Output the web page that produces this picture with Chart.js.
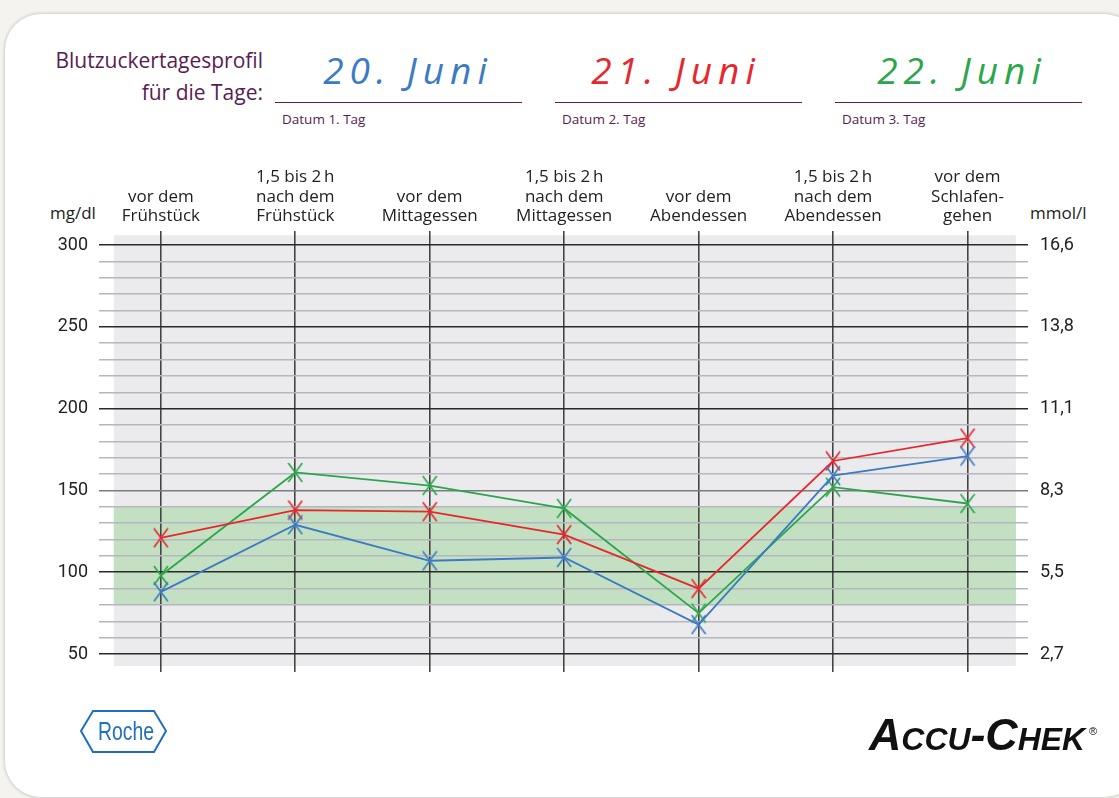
<!DOCTYPE html>
<html lang="de">
<head>
<meta charset="utf-8">
<title>Blutzuckertagesprofil</title>
<script src="https://cdn.jsdelivr.net/npm/chart.js@4.4.1/dist/chart.umd.min.js"></script>
<style>
  html, body { margin: 0; padding: 0; }
  body {
    width: 1119px; height: 798px; overflow: hidden; position: relative;
    background: #f4f3ef; font-family: "Open Sans", sans-serif;
  }
  .card {
    position: absolute; left: 5px; top: 14px; width: 1135px; height: 783px;
    background: #fff; border-radius: 36px;
    box-shadow: 0 0 3px 1px rgba(0, 0, 0, 0.16);
  }
  .purple { color: #5a1c52; }
  .head { position: absolute; right: 856px; font-size: 21px; line-height: 24px; text-align: right; white-space: nowrap; }
  .date {
    position: absolute; width: 248px; text-align: center; top: 50px;
    font-size: 37px; line-height: 40px; font-style: italic; font-weight: 400;
    letter-spacing: 6px; white-space: nowrap;
  }
  .rule { position: absolute; top: 102px; width: 247px; height: 0; border-top: 1.5px solid #5a1c52; }
  .small { position: absolute; top: 111px; font-size: 13.5px; line-height: 16px; white-space: nowrap; }
  .unit { position: absolute; top: 203px; font-size: 17px; line-height: 20px; color: #222; }
  #wrap { position: absolute; left: 0; top: 0; width: 1119px; height: 798px; }
</style>
</head>
<body>
<div class="card"></div>

<div class="head purple" style="top:48px">Blutzuckertagesprofil</div>
<div class="head purple" style="top:80px">für die Tage:</div>

<div class="date" style="left:284px;color:#3b7bc3">20. Juni</div>
<div class="date" style="left:552px;color:#e8262d">21. Juni</div>
<div class="date" style="left:838px;color:#2ca64b">22. Juni</div>

<div class="rule" style="left:275px"></div>
<div class="rule" style="left:555px"></div>
<div class="rule" style="left:835px"></div>

<div class="small purple" style="left:282px">Datum 1. Tag</div>
<div class="small purple" style="left:562px">Datum 2. Tag</div>
<div class="small purple" style="left:842px">Datum 3. Tag</div>

<div class="unit" style="left:50px">mg/dl</div>
<div class="unit" style="left:1030px">mmol/l</div>

<div id="wrap"><canvas id="profil"></canvas></div>

<svg style="position:absolute;left:0;top:0" width="1119" height="798">
  <polygon points="81,731 93,711 154,711 166,731 154,752 93,752" fill="none" stroke="#1f6fc1" stroke-width="2"/>
  <text x="98" y="740" textLength="56" lengthAdjust="spacingAndGlyphs" fill="#1f6fc1" font-size="25"
        font-family="Liberation Sans, sans-serif">Roche</text>
  <text x="869" y="750" textLength="216" lengthAdjust="spacingAndGlyphs" fill="#111" font-size="45"
        font-weight="700" font-style="italic" style="font-variant: small-caps"
        font-family="Liberation Sans, sans-serif">Accu-Chek</text>
  <text x="1089" y="735" fill="#111" font-size="11" font-family="Liberation Sans, sans-serif">®</text>
</svg>

<script>
// ===================== Messzeitpunkte =====================
var zeitpunkte = [
  ["vor dem", "Frühstück"],
  ["1,5 bis 2\u2009h", "nach dem", "Frühstück"],
  ["vor dem", "Mittagessen"],
  ["1,5 bis 2\u2009h", "nach dem", "Mittagessen"],
  ["vor dem", "Abendessen"],
  ["1,5 bis 2\u2009h", "nach dem", "Abendessen"],
  ["vor dem", "Schlafen-", "gehen"]
];

// Blutzucker in mg/dl
var tag1 = [88, 129, 107, 109, 68, 159, 171];   // 20. Juni
var tag2 = [121, 138, 137, 123, 90, 168, 182];  // 21. Juni
var tag3 = [98, 161, 153, 139, 75, 152, 142];   // 22. Juni

// Achsenbeschriftung
var mgdlTicks = [50, 100, 150, 200, 250, 300];
var mmolTicks = ["2,7", "5,5", "8,3", "11,1", "13,8", "16,6"];
var zielbereich = [80, 140];

// X als Punktsymbol (etwas höher als breit)
function kreuz(color) {
  var c = document.createElement("canvas");
  c.width = 16;
  c.height = 21;
  var g = c.getContext("2d");
  g.strokeStyle = color;
  g.lineWidth = 1.6;
  g.beginPath();
  g.moveTo(1, 1); g.lineTo(15, 20);
  g.moveTo(15, 1); g.lineTo(1, 20);
  g.stroke();
  return c;
}

function punkte(werte) {
  return werte.map(function (v, i) { return { x: i, y: v }; });
}

function serie(label, werte, color) {
  return {
    label: label,
    data: punkte(werte),
    borderColor: color,
    borderWidth: 1.8,
    pointStyle: kreuz(color),
    pointRadius: 9,
    tension: 0
  };
}

// grauer Hintergrund + grüner Zielbereich
var hintergrund = {
  id: "hintergrund",
  beforeDraw: function (chart) {
    var x = chart.scales.x, y = chart.scales.y, ctx = chart.ctx;
    var l = x.getPixelForValue(-0.35), r = x.getPixelForValue(6.36);
    ctx.save();
    ctx.fillStyle = "#ebebee";
    ctx.fillRect(l, y.getPixelForValue(306), r - l, y.getPixelForValue(42.7) - y.getPixelForValue(306));
    ctx.fillStyle = "#c3e1c2";
    var top = y.getPixelForValue(zielbereich[1]);
    ctx.fillRect(l, top, r - l, y.getPixelForValue(zielbereich[0]) - top);
    ctx.restore();
  }
};

var ctx = document.getElementById("profil").getContext("2d");
var profil = new Chart(ctx, {
  type: "line",
  data: {
    datasets: [
      serie("20. Juni", tag1, "#3b7bc3"),
      serie("21. Juni", tag2, "#e8262d"),
      serie("22. Juni", tag3, "#2ca64b")
    ]
  },
  plugins: [hintergrund],
  options: {
    responsive: true,
    maintainAspectRatio: false,
    animation: false,
    layout: { padding: { top: 0, left: 0, right: 0, bottom: 126 } },
    plugins: { legend: { display: false }, tooltip: { enabled: false } },
    scales: {
      x: {
        type: "linear",
        position: "top",
        min: -0.46,
        max: 6.45,
        afterBuildTicks: function (s) {
          s.ticks = zeitpunkte.map(function (z, i) { return { value: i }; });
        },
        afterFit: function (s) { s.height = 231; },
        border: { display: false },
        grid: { color: "#454545", lineWidth: 1.6, drawTicks: false },
        ticks: {
          autoSkip: false,
          maxRotation: 0,
          padding: 5,
          color: "#222",
          font: { family: "Open Sans", size: 17, lineHeight: 1.14 },
          callback: function (v) { return zeitpunkte[v]; }
        }
      },
      y: {
        position: "left",
        min: 39,
        max: 308.6,
        afterBuildTicks: function (s) {
          var t = [];
          for (var v = 50; v <= 300; v += 10) t.push({ value: v });
          s.ticks = t;
        },
        afterFit: function (s) { s.width = 99; },
        border: { display: false },
        grid: {
          drawTicks: false,
          lineWidth: function (c) { return c.tick && c.tick.value % 50 === 0 ? 1.6 : 1.5; },
          color: function (c) {
            if (!c.tick) return "#b8b8c0";
            if (c.tick.value === 150) return "#7d7d7d";
            return c.tick.value % 50 === 0 ? "#2a2a2a" : "#b6b6bf";
          }
        },
        ticks: {
          autoSkip: false,
          padding: 11,
          color: "#222",
          font: { family: "Roboto", size: 18 },
          callback: function (v) { return mgdlTicks.indexOf(v) >= 0 ? String(v) : ""; }
        }
      },
      mmol: {
        position: "right",
        min: 39,
        max: 308.6,
        afterBuildTicks: function (s) {
          s.ticks = mgdlTicks.map(function (v) { return { value: v }; });
        },
        afterFit: function (s) { s.width = 91; },
        border: { display: false },
        grid: { display: false, drawTicks: false },
        ticks: {
          autoSkip: false,
          padding: 12,
          color: "#222",
          font: { family: "Roboto", size: 18 },
          callback: function (v) { return mmolTicks[mgdlTicks.indexOf(v)]; }
        }
      }
    }
  }
});
</script>
</body>
</html>
